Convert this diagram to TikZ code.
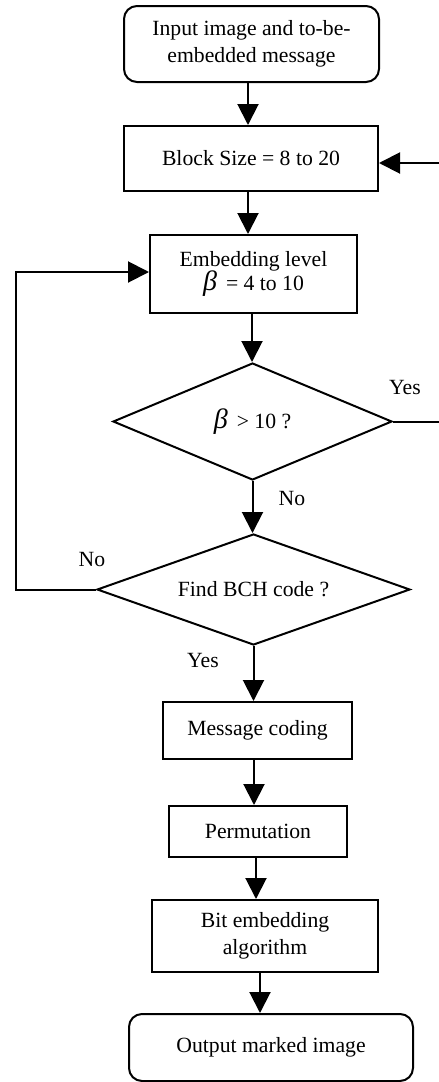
\documentclass[tikz,border=0pt]{standalone}
\usepackage{fontspec}
\setmainfont{Liberation Serif}
\usetikzlibrary{arrows.meta,shapes.geometric}

\newcommand{\bigbeta}{{\fontsize{28}{28}\selectfont\itshape β}}

\tikzset{
  every node/.style={font=\fontsize{21.7}{26.5}\selectfont, inner sep=0pt},
  stepbox/.style={draw, rectangle, line width=2pt, align=center},
  termbox/.style={stepbox, rounded corners=13pt},
  decide/.style={draw, diamond, line width=2pt, align=center, aspect=2.4},
  arr/.style={line width=2pt, -{Triangle[width=21pt,length=21pt]}},
  lbl/.style={anchor=center},
}

\begin{document}
\begin{tikzpicture}[x=1pt, y=-1pt]
\useasboundingbox (0,0) rectangle (439,1082);

% process steps
\node[termbox, minimum width=255pt, minimum height=76pt] (b1) at (251.5,44)
  {Input image and to-be-\\embedded message};
\node[stepbox, minimum width=254pt, minimum height=65pt] (b2) at (251,158.5)
  {Block Size = 8 to 20};
\node[stepbox, minimum width=207pt, minimum height=78pt] (b3) at (253.5,274)
  {Embedding level\\[-2pt]\bigbeta\ \,= 4 to 10};
\node[decide, minimum width=279pt, minimum height=117pt] (d1) at (252.5,421.5)
  {\bigbeta\ \,> 10 ?};
\node[decide, minimum width=313pt, minimum height=111pt] (d2) at (253.5,589.5)
  {Find BCH code ?};
\node[stepbox, minimum width=189pt, minimum height=57pt] (b4) at (257.5,730.5)
  {Message coding};
\node[stepbox, minimum width=178pt, minimum height=51pt] (b5) at (258,831.5)
  {Permutation};
\node[stepbox, minimum width=226pt, minimum height=72pt] (b6) at (265,936)
  {Bit embedding\\algorithm};
\node[termbox, minimum width=284pt, minimum height=67pt] (b7) at (271,1047.5)
  {Output marked image};

% main flow
\draw[arr] ([xshift=-3.5pt]b1.south) -- ([xshift=-3.5pt]b1.south |- b2.north);
\draw[arr] ([xshift=-3pt]b2.south) -- ([xshift=-3pt]b2.south |- b3.north);
\draw[arr] ([xshift=-1.5pt]b3.south) -- ([xshift=-1.5pt]b3.south |- d1.north);
\draw[arr] (d1.south) -- (d1.south |- d2.north);
\draw[arr] (d2.south) -- (d2.south |- b4.north);
\draw[arr] ([xshift=-3.5pt]b4.south) -- ([xshift=-3.5pt]b4.south |- b5.north);
\draw[arr] ([xshift=-2pt]b5.south) -- ([xshift=-2pt]b5.south |- b6.north);
\draw[arr] ([xshift=-5pt]b6.south) -- ([xshift=-5pt]b6.south |- b7.north);

% feedback loops
\coordinate (lp) at (16,0);
\coordinate (rt) at (443,0);
\draw[arr] (d2.west) -- (d2.west -| lp) |- ([yshift=2pt]b3.west);
\draw[arr] (d1.east) -- (d1.east -| rt) |- ([yshift=-4.5pt]b2.east);

% branch labels
\node[lbl] (yes1) at (405,387) {Yes};
\node[lbl] (no1) at (292,498) {No};
\node[lbl] (no2) at (92,559) {No};
\node[lbl] (yes2) at (203,660) {Yes};
\end{tikzpicture}
\end{document}
